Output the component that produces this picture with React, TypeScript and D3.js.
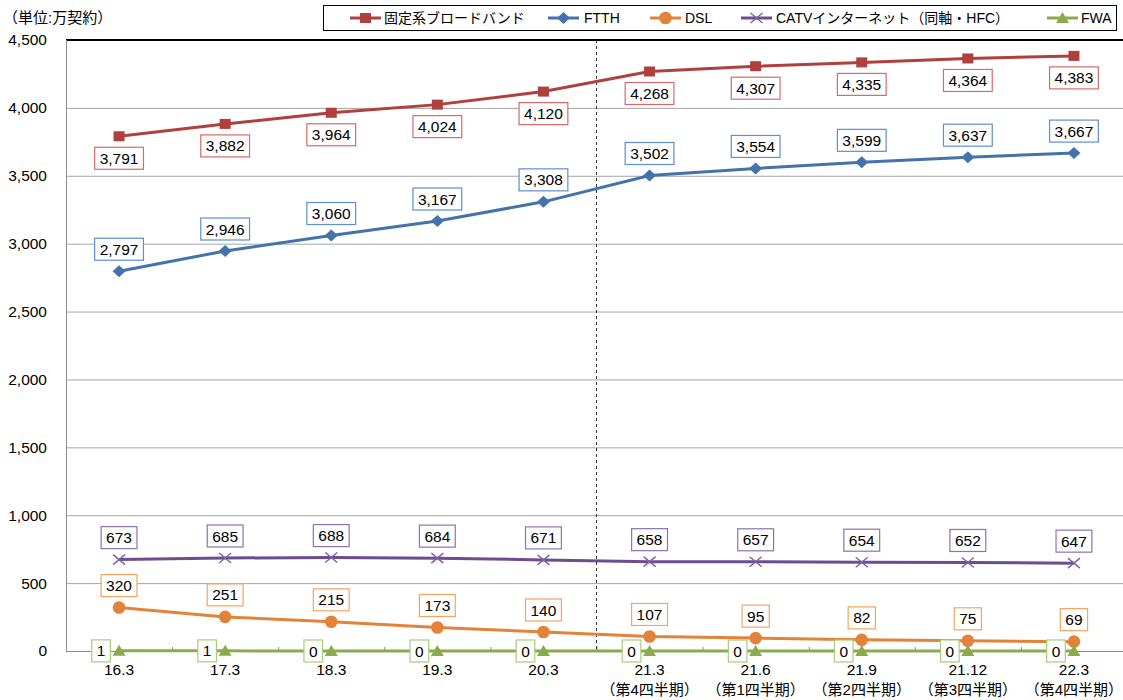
import * as d3 from "d3";

const W = 1123;
const H = 700;
const LEFT = 66;
const TOP = 40;
const BOTTOM = 651;
const STEP = 106.1;

const FONT = "'Liberation Sans', Arial, 'Noto Sans CJK JP', sans-serif";
const CJK = "'Liberation Sans', 'Noto Sans CJK JP', sans-serif";

const categories = ["16.3", "17.3", "18.3", "19.3", "20.3", "21.3", "21.6", "21.9", "21.12", "22.3"];
const subLabels = ["", "", "", "", "", "（第4四半期）", "（第1四半期）", "（第2四半期）", "（第3四半期）", "（第4四半期）"];
const yTicks = [0, 500, 1000, 1500, 2000, 2500, 3000, 3500, 4000, 4500];

const broadband = [3791, 3882, 3964, 4024, 4120, 4268, 4307, 4335, 4364, 4383];
const ftth = [2797, 2946, 3060, 3167, 3308, 3502, 3554, 3599, 3637, 3667];
const dsl = [320, 251, 215, 173, 140, 107, 95, 82, 75, 69];
const catv = [673, 685, 688, 684, 671, 658, 657, 654, 652, 647];
const fwa = [1, 1, 0, 0, 0, 0, 0, 0, 0, 0];

type Marker = "square" | "diamond" | "circle" | "cross" | "triangle";
type LabelPos = "above" | "below" | "left";

interface Series {
  name: string;
  values: number[];
  color: string;
  markerColor: string;
  boxColor: string;
  marker: Marker;
  label: LabelPos;
}

const SERIES: Series[] = [
  { name: "固定系ブロードバンド", values: broadband, color: "#b0403d", markerColor: "#b0403d", boxColor: "#d9696a", marker: "square", label: "below" },
  { name: "FTTH", values: ftth, color: "#4473ab", markerColor: "#4473ab", boxColor: "#5d8fd2", marker: "diamond", label: "above" },
  { name: "DSL", values: dsl, color: "#e3833a", markerColor: "#e3833a", boxColor: "#f6a35e", marker: "circle", label: "above" },
  { name: "CATVインターネット（同軸・HFC）", values: catv, color: "#6c4d91", markerColor: "#7e62a6", boxColor: "#8c72b2", marker: "cross", label: "above" },
  { name: "FWA", values: fwa, color: "#8aab4c", markerColor: "#8aab4c", boxColor: "#a9cc7c", marker: "triangle", label: "left" },
];

// rough Arial widths, enough to size the label boxes
function textWidth(s: string, size: number) {
  let w = 0;
  for (const c of s) w += c === "," ? 0.278 : 0.556;
  return w * size;
}

function MarkerShape({ kind, x, y, color }: { kind: Marker; x: number; y: number; color: string }) {
  switch (kind) {
    case "square":
      return <rect x={x - 5.5} y={y - 5} width={11} height={10} fill={color} />;
    case "diamond":
      return <path d={`M${x},${y - 6}L${x + 6.5},${y}L${x},${y + 6}L${x - 6.5},${y}Z`} fill={color} />;
    case "circle":
      return <circle cx={x} cy={y} r={6.3} fill={color} />;
    case "cross":
      return (
        <path
          d={`M${x - 6},${y - 5}L${x + 6},${y + 5}M${x - 6},${y + 5}L${x + 6},${y - 5}`}
          stroke={color}
          strokeWidth={1.4}
          fill="none"
        />
      );
    case "triangle":
      return <path d={`M${x},${y - 6}L${x + 6.5},${y + 5}L${x - 6.5},${y + 5}Z`} fill={color} />;
  }
}

export default function App() {
  const x = d3.scaleBand<string>().domain(categories).range([LEFT, LEFT + STEP * categories.length]);
  const y = d3.scaleLinear().domain([0, 4500]).range([BOTTOM, TOP]);
  const cx = (c: string) => (x(c) ?? 0) + x.bandwidth() / 2;
  const fmt = d3.format(",");
  const line = d3
    .line<number>()
    .x((_, i) => cx(categories[i]))
    .y((d) => y(d));

  const dashX = x(categories[5]) ?? 0;

  // legend layout
  const legendItems = [
    { s: SERIES[0], lx: 350, tx: 384 },
    { s: SERIES[1], lx: 548, tx: 584 },
    { s: SERIES[2], lx: 650, tx: 685 },
    { s: SERIES[3], lx: 741, tx: 776 },
    { s: SERIES[4], lx: 1047, tx: 1081 },
  ];

  return (
    <svg width={W} height={H} style={{ position: "absolute", left: 0, top: 0, background: "#fff" }} fontFamily={FONT}>
      {/* unit label */}
      <text x={3} y={18} dy="0.35em" fontSize={15} fill="#000" fontFamily={CJK}>
        （単位:万契約）
      </text>

      {/* legend */}
      <rect x={323.5} y={5.5} width={793} height={25} fill="#fff" stroke="#000" strokeWidth={1} />
      {legendItems.map(({ s, lx, tx }) => (
        <g key={s.name}>
          <line x1={lx} x2={lx + 31} y1={18} y2={18} stroke={s.color} strokeWidth={3} />
          <MarkerShape kind={s.marker} x={lx + 15.5} y={18} color={s.markerColor} />
          <text x={tx} y={18} dy="0.35em" fontSize={14} fill="#000" fontFamily={CJK}>
            {s.name}
          </text>
        </g>
      ))}

      {/* grid + y ticks */}
      {yTicks.map((t) => (
        <g key={t}>
          {t > 0 && t < 4500 && (
            <line x1={LEFT} x2={W} y1={y(t) + 0.5} y2={y(t) + 0.5} stroke="#a6a6a6" strokeWidth={1} />
          )}
          <text x={47} y={y(t)} dy="0.35em" textAnchor="end" fontSize={15.5} fill="#000">
            {fmt(t)}
          </text>
        </g>
      ))}
      <line x1={LEFT} x2={W} y1={TOP} y2={TOP} stroke="#000" strokeWidth={2} />
      <line x1={LEFT + 0.5} x2={LEFT + 0.5} y1={TOP} y2={BOTTOM} stroke="#8c8c8c" strokeWidth={1} />
      <line x1={LEFT} x2={W} y1={BOTTOM + 0.5} y2={BOTTOM + 0.5} stroke="#8c8c8c" strokeWidth={1} />

      {/* x ticks (inward) */}
      {categories.slice(1).map((c) => (
        <line
          key={c}
          x1={(x(c) ?? 0) + 0.5}
          x2={(x(c) ?? 0) + 0.5}
          y1={BOTTOM - 4}
          y2={BOTTOM}
          stroke="#8c8c8c"
          strokeWidth={1}
        />
      ))}

      {/* dotted divider */}
      <line x1={dashX} x2={dashX} y1={TOP} y2={BOTTOM} stroke="#333" strokeWidth={1} strokeDasharray="3,3" />

      {/* x labels */}
      {categories.map((c, i) => (
        <g key={c}>
          <text x={cx(c)} y={670} dy="0.35em" textAnchor="middle" fontSize={15.5} fill="#000">
            {c}
          </text>
          {subLabels[i] && (
            <text x={cx(c)} y={690} dy="0.35em" textAnchor="middle" fontSize={15} fill="#000" fontFamily={CJK}>
              {subLabels[i]}
            </text>
          )}
        </g>
      ))}

      {/* series */}
      {SERIES.map((s) => (
        <g key={s.name}>
          <path d={line(s.values) ?? ""} fill="none" stroke={s.color} strokeWidth={3} />
          {s.values.map((v, i) => (
            <MarkerShape key={i} kind={s.marker} x={cx(categories[i])} y={y(v)} color={s.markerColor} />
          ))}
        </g>
      ))}

      {/* data labels */}
      {SERIES.map((s) =>
        s.values.map((v, i) => {
          const label = fmt(v);
          const tw = textWidth(label, 15.5);
          const bw = tw + 10;
          const bh = 22;
          let lx = cx(categories[i]);
          let ly = y(v);
          if (s.label === "above") ly -= 22;
          else if (s.label === "below") ly += 22;
          else lx -= 18;
          return (
            <g key={`${s.name}-${i}`}>
              <rect
                x={lx - bw / 2}
                y={ly - bh / 2}
                width={bw}
                height={bh}
                fill="#fff"
                stroke={s.boxColor}
                strokeWidth={1.2}
              />
              <text x={lx} y={ly} dy="0.36em" textAnchor="middle" fontSize={15.5} fill="#000">
                {label}
              </text>
            </g>
          );
        }),
      )}
    </svg>
  );
}
